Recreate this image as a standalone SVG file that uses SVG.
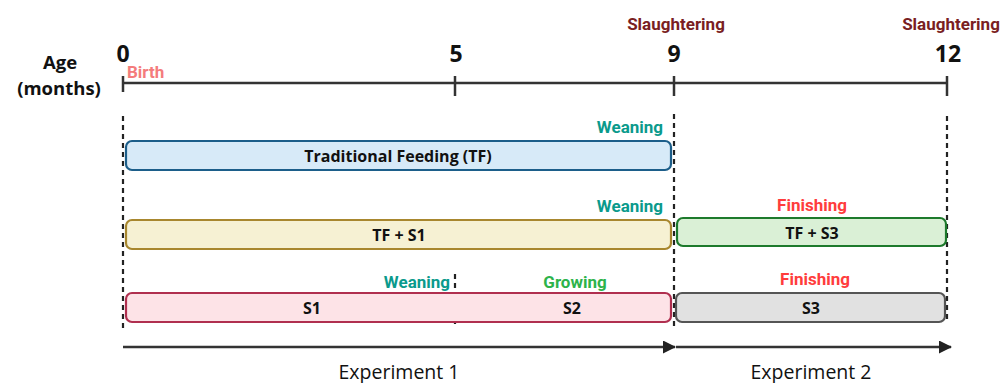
<svg xmlns="http://www.w3.org/2000/svg" width="1001" height="383" viewBox="0 0 1001 383">
<defs>
<marker id="ah" markerWidth="13" markerHeight="13" refX="12" refY="6.5" orient="auto" markerUnits="userSpaceOnUse"><path d="M0,0 L13,6.5 L0,13 z" fill="#222"/></marker>
<style>
.ax{stroke:#333;stroke-width:2.5;fill:none}
.dash{stroke:#222;stroke-width:2.2;stroke-dasharray:5,4;fill:none}
.num{font-family:"Open Sans",Lato,sans-serif;font-weight:bold;font-size:23px;fill:#111;text-anchor:middle}
.age{font-family:"Open Sans",Lato,sans-serif;font-weight:bold;font-size:18.5px;fill:#111;text-anchor:middle}
.lbl{font-family:Roboto,"Liberation Sans",sans-serif;font-weight:bold;font-size:17px}
.bt{font-family:"Open Sans",Lato,sans-serif;font-weight:bold;font-size:16px;fill:#111;text-anchor:middle}
.exp{font-family:"Open Sans",Lato,sans-serif;font-size:19.5px;fill:#111;text-anchor:middle}
.box{stroke-width:2.2}
</style>
</defs>
<g id="axis">
<line class="ax" x1="123" y1="83" x2="948" y2="83"/>
<line class="ax" x1="123" y1="76" x2="123" y2="92"/>
<line class="ax" x1="455" y1="76" x2="455" y2="96"/>
<line class="ax" x1="674" y1="76" x2="674" y2="96"/>
<line class="ax" x1="947" y1="76" x2="947" y2="96"/>
<text class="num" x="123" y="62">0</text>
<text class="num" x="456" y="62">5</text>
<text class="num" x="674" y="62">9</text>
<text class="num" x="948" y="62">12</text>
<text class="age" x="60" y="69">Age</text>
<text class="age" x="59" y="95">(months)</text>
<text class="lbl" x="127" y="78" fill="#F47C7C">Birth</text>
<text class="lbl" x="676" y="30" fill="#7A1E22" text-anchor="middle">Slaughtering</text>
<text class="lbl" x="951" y="30" fill="#7A1E22" text-anchor="middle">Slaughtering</text>
</g>
<g id="connectors">
<line class="dash" x1="123" y1="116" x2="123" y2="330"/>
<line class="dash" x1="674" y1="114" x2="674" y2="330"/>
<line class="dash" x1="947" y1="116" x2="947" y2="320"/>
<line class="dash" x1="455" y1="274" x2="455" y2="325"/>
<line class="ax" x1="123" y1="347" x2="675" y2="347" marker-end="url(#ah)"/>
<line class="ax" x1="676" y1="347" x2="951" y2="347" marker-end="url(#ah)"/>
</g>
<g id="tf">
<rect class="box" x="126" y="141" width="545" height="29" rx="6" fill="#D7EAF8" stroke="#1C5E8A"/>
<text class="bt" x="398" y="162">Traditional Feeding (TF)</text>
<text class="lbl" x="663" y="133" fill="#0A9A8C" text-anchor="end">Weaning</text>
</g>
<g id="tfs1">
<rect class="box" x="126" y="220" width="545" height="29" rx="6" fill="#F6F1D3" stroke="#A8872E"/>
<text class="bt" x="399" y="241">TF + S1</text>
<text class="lbl" x="663" y="212" fill="#0A9A8C" text-anchor="end">Weaning</text>
</g>
<g id="tfs3">
<rect class="box" x="677" y="218" width="269" height="28" rx="6" fill="#DAF0D6" stroke="#1D7A2C"/>
<text class="bt" x="812" y="239">TF + S3</text>
<text class="lbl" x="812" y="211" fill="#FF3C3C" text-anchor="middle">Finishing</text>
</g>
<g id="s1s2">
<rect class="box" x="126" y="293" width="545" height="29" rx="6" fill="#FDE3E7" stroke="#B02F4F"/>
<text class="bt" x="312" y="314">S1</text>
<text class="bt" x="572" y="314">S2</text>
<text class="lbl" x="450" y="288" fill="#0A9A8C" text-anchor="end">Weaning</text>
<text class="lbl" x="575" y="288" fill="#2DB34A" text-anchor="middle">Growing</text>
</g>
<g id="s3">
<rect class="box" x="676" y="293" width="269" height="29" rx="6" fill="#E1E1E1" stroke="#555"/>
<text class="bt" x="811" y="314">S3</text>
<text class="lbl" x="815" y="285" fill="#FF3C3C" text-anchor="middle">Finishing</text>
</g>
<g id="experiments">
<text class="exp" x="399" y="379">Experiment 1</text>
<text class="exp" x="811" y="379">Experiment 2</text>
</g>
</svg>
